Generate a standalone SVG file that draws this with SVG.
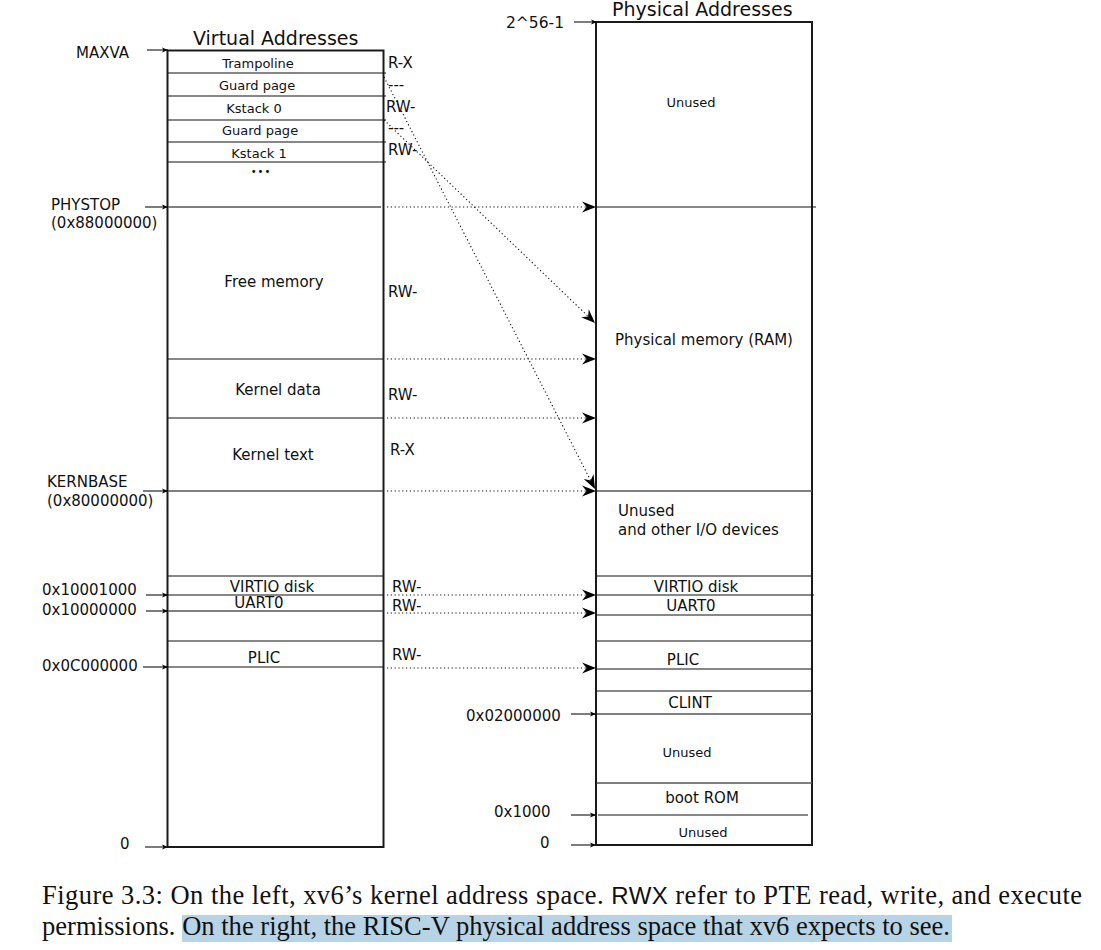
<svg xmlns="http://www.w3.org/2000/svg" width="1101" height="950" viewBox="0 0 1101 950">
<style>
  text { font-family: "DejaVu Sans", "Liberation Sans", sans-serif; fill: #111; }
  .t15 { font-size: 15px; }
  .t13 { font-size: 13px; }
  .perm { font-size: 15px; }
  .title { font-size: 19px; }
  .mid { text-anchor: middle; }
  .box { fill: none; stroke: #1a1a1a; stroke-width: 2; }
  .div { stroke: #111; stroke-width: 1.2; }
  .dot { fill: none; stroke: #111; stroke-width: 1.1; stroke-dasharray: 1.2 2.6; }
  .addr { stroke: #111; stroke-width: 1.1; fill: none; }
  .cap { font-family: "Liberation Serif", "Times New Roman", serif; font-size: 26.5px; fill: #111; }
  .capsans { font-family: "Liberation Sans", Arial, sans-serif; font-size: 24px; }
</style>
<defs>
  <marker id="ah" viewBox="-15 -6 16 12" refX="0" refY="0" markerWidth="16" markerHeight="12" markerUnits="userSpaceOnUse" orient="auto">
    <path d="M0,0 L-14,-5.5 L-9.5,0 L-14,5.5 Z" fill="#000"/>
  </marker>
  <marker id="sa" viewBox="-7 -3 8 6" refX="0" refY="0" markerWidth="8" markerHeight="6" markerUnits="userSpaceOnUse" orient="auto">
    <path d="M0,0 L-6,-2.5 L-4.5,0 L-6,2.5 Z" fill="#000"/>
  </marker>
</defs>
<rect width="1101" height="950" fill="#fff"/>

<!-- Virtual address space -->
<g id="virtual">
  <text class="title" x="193" y="45">Virtual Addresses</text>
  <rect class="box" x="167.5" y="50.5" width="216" height="796.5"/>
</g>
<g id="v-trampoline">
  <text class="t13 mid" x="258" y="68">Trampoline</text>
  <text class="perm" x="388" y="68">R-X</text>
  <line class="div" x1="168" y1="73" x2="386" y2="73"/>
</g>
<g id="v-guard0">
  <text class="t13 mid" x="257" y="90">Guard page</text>
  <text class="perm" x="388" y="89.5">---</text>
  <line class="div" x1="168" y1="96" x2="386" y2="96"/>
</g>
<g id="v-kstack0">
  <text class="t13 mid" x="254" y="113">Kstack 0</text>
  <text class="perm" x="386" y="112">RW-</text>
  <line class="div" x1="168" y1="120" x2="386" y2="120"/>
</g>
<g id="v-guard1">
  <text class="t13 mid" x="260" y="135">Guard page</text>
  <text class="perm" x="388" y="133">---</text>
  <line class="div" x1="168" y1="142" x2="386" y2="142"/>
</g>
<g id="v-kstack1">
  <text class="t13 mid" x="259" y="158">Kstack 1</text>
  <text class="perm" x="388" y="155">RW-</text>
  <line class="div" x1="168" y1="162" x2="386" y2="162"/>
  <text class="mid" x="261" y="175" style="font-size:10px;letter-spacing:1px">•••</text>
</g>
<g id="v-free">
  <line class="div" x1="168" y1="207" x2="381" y2="207" style="stroke:#555;stroke-width:1.6"/>
  <text class="t15 mid" x="274" y="287">Free memory</text>
  <text class="perm" x="388" y="297">RW-</text>
  <line class="div" x1="168" y1="359" x2="383" y2="359"/>
</g>
<g id="v-kdata">
  <text class="t15 mid" x="278" y="395">Kernel data</text>
  <text class="perm" x="388" y="400">RW-</text>
  <line class="div" x1="168" y1="418" x2="383" y2="418"/>
</g>
<g id="v-ktext">
  <text class="t15 mid" x="273" y="460">Kernel text</text>
  <text class="perm" x="390" y="455">R-X</text>
  <line class="div" x1="168" y1="491" x2="383" y2="491" style="stroke:#555;stroke-width:1.6"/>
</g>
<g id="v-virtio">
  <line class="div" x1="168" y1="576" x2="383" y2="576"/>
  <text class="t15 mid" x="272" y="592">VIRTIO disk</text>
  <text class="perm" x="392" y="592">RW-</text>
  <line class="div" x1="168" y1="595" x2="383" y2="595"/>
</g>
<g id="v-uart">
  <text class="t15 mid" x="259" y="608">UART0</text>
  <text class="perm" x="392" y="611">RW-</text>
  <line class="div" x1="168" y1="611" x2="383" y2="611" style="stroke:#555;stroke-width:1.6"/>
  <line class="div" x1="168" y1="641" x2="383" y2="641"/>
</g>
<g id="v-plic">
  <text class="t15 mid" x="264" y="663">PLIC</text>
  <text class="perm" x="392" y="660">RW-</text>
  <line class="div" x1="168" y1="667" x2="383" y2="667"/>
</g>

<!-- Virtual address labels -->
<g id="v-labels">
  <text class="t15" x="76" y="58">MAXVA</text>
  <text class="t15" x="51" y="210">PHYSTOP</text>
  <text class="t15" x="51" y="228">(0x88000000)</text>
  <text class="t15" x="47" y="487">KERNBASE</text>
  <text class="t15" x="47" y="506">(0x80000000)</text>
  <text class="t15" x="42" y="595">0x10001000</text>
  <text class="t15" x="42" y="615">0x10000000</text>
  <text class="t15" x="42" y="671">0x0C000000</text>
  <text class="t15" x="120" y="849">0</text>
</g>

<!-- Physical address space -->
<g id="physical">
  <text class="title" x="612" y="16">Physical Addresses</text>
  <rect class="box" x="596" y="22" width="216" height="823"/>
</g>
<g id="p-unused-top">
  <text class="t13 mid" x="691" y="107">Unused</text>
  <line class="div" x1="597" y1="207" x2="816" y2="207"/>
</g>
<g id="p-ram">
  <text class="t15 mid" x="704" y="345">Physical memory (RAM)</text>
  <line class="div" x1="597" y1="491" x2="812" y2="491" style="stroke:#555;stroke-width:1.6"/>
</g>
<g id="p-io">
  <text class="t15" x="618" y="516">Unused</text>
  <text class="t15" x="618" y="535">and other I/O devices</text>
  <line class="div" x1="597" y1="576" x2="812" y2="576"/>
</g>
<g id="p-virtio">
  <text class="t15 mid" x="696" y="592">VIRTIO disk</text>
  <line class="div" x1="597" y1="595" x2="814" y2="595"/>
</g>
<g id="p-uart">
  <text class="t15 mid" x="691" y="611">UART0</text>
  <line class="div" x1="597" y1="615" x2="812" y2="615"/>
  <line class="div" x1="597" y1="641" x2="812" y2="641"/>
</g>
<g id="p-plic">
  <text class="t15 mid" x="683" y="665">PLIC</text>
  <line class="div" x1="597" y1="669" x2="812" y2="669"/>
  <line class="div" x1="597" y1="691" x2="812" y2="691"/>
</g>
<g id="p-clint">
  <text class="t15 mid" x="690" y="708">CLINT</text>
  <line class="div" x1="597" y1="714" x2="812" y2="714" style="stroke:#555;stroke-width:1.6"/>
</g>
<g id="p-unused-mid">
  <text class="t13 mid" x="687" y="757">Unused</text>
  <line class="div" x1="597" y1="783" x2="812" y2="783" style="stroke:#555;stroke-width:1.6"/>
</g>
<g id="p-bootrom">
  <text class="t15 mid" x="702" y="803">boot ROM</text>
  <line class="div" x1="598" y1="815" x2="808" y2="815"/>
</g>
<g id="p-unused-bottom">
  <text class="t13 mid" x="703" y="837">Unused</text>
</g>

<!-- Physical address labels -->
<g id="p-labels">
  <text class="t15" x="506" y="28" style="font-size:15.5px">2^56-1</text>
  <text class="t15" x="466" y="721">0x02000000</text>
  <text class="t15" x="494" y="817">0x1000</text>
  <text class="t15" x="540" y="848">0</text>
</g>

<!-- Connectors -->
<g id="connectors">
  <line class="addr" x1="147" y1="50" x2="168" y2="50" marker-end="url(#sa)"/>
  <line class="addr" x1="145" y1="207" x2="168" y2="207" marker-end="url(#sa)"/>
  <line class="addr" x1="143" y1="491" x2="168" y2="491" marker-end="url(#sa)"/>
  <line class="addr" x1="146" y1="595" x2="168" y2="595" marker-end="url(#sa)"/>
  <line class="addr" x1="146" y1="611" x2="168" y2="611" marker-end="url(#sa)"/>
  <line class="addr" x1="143" y1="667" x2="168" y2="667" marker-end="url(#sa)"/>
  <line class="addr" x1="145" y1="847" x2="168" y2="847" marker-end="url(#sa)"/>
  <line class="addr" x1="574" y1="22" x2="597" y2="22" marker-end="url(#sa)"/>
  <line class="addr" x1="571" y1="714" x2="596" y2="714" marker-end="url(#sa)"/>
  <line class="addr" x1="571" y1="815" x2="596" y2="815" marker-end="url(#sa)"/>
  <line class="addr" x1="571" y1="845" x2="596" y2="845" marker-end="url(#sa)"/>
  <line class="dot" x1="387" y1="207" x2="596" y2="207" marker-end="url(#ah)"/>
  <line class="dot" x1="387" y1="359" x2="596" y2="359" marker-end="url(#ah)"/>
  <line class="dot" x1="387" y1="418" x2="596" y2="418" marker-end="url(#ah)"/>
  <line class="dot" x1="387" y1="491" x2="596" y2="491" marker-end="url(#ah)"/>
  <line class="dot" x1="387" y1="595" x2="596" y2="595" marker-end="url(#ah)"/>
  <line class="dot" x1="387" y1="613" x2="596" y2="613" marker-end="url(#ah)"/>
  <line class="dot" x1="387" y1="668" x2="596" y2="668" marker-end="url(#ah)"/>
  <line class="dot" x1="384" y1="77" x2="595" y2="489" marker-end="url(#ah)"/>
  <line class="dot" x1="384" y1="120" x2="595" y2="323" marker-end="url(#ah)"/>
</g>

<!-- Caption -->
<g id="caption">
  <rect x="182" y="915" width="770" height="27" fill="#b7d3e6"/>
  <text class="cap" x="42" y="904" textLength="1040" lengthAdjust="spacing">Figure 3.3: On the left, xv6’s kernel address space. <tspan class="capsans">RWX</tspan> refer to PTE read, write, and execute</text>
  <text class="cap" x="42" y="935" textLength="908" lengthAdjust="spacingAndGlyphs">permissions. On the right, the RISC-V physical address space that xv6 expects to see.</text>
</g>
</svg>
